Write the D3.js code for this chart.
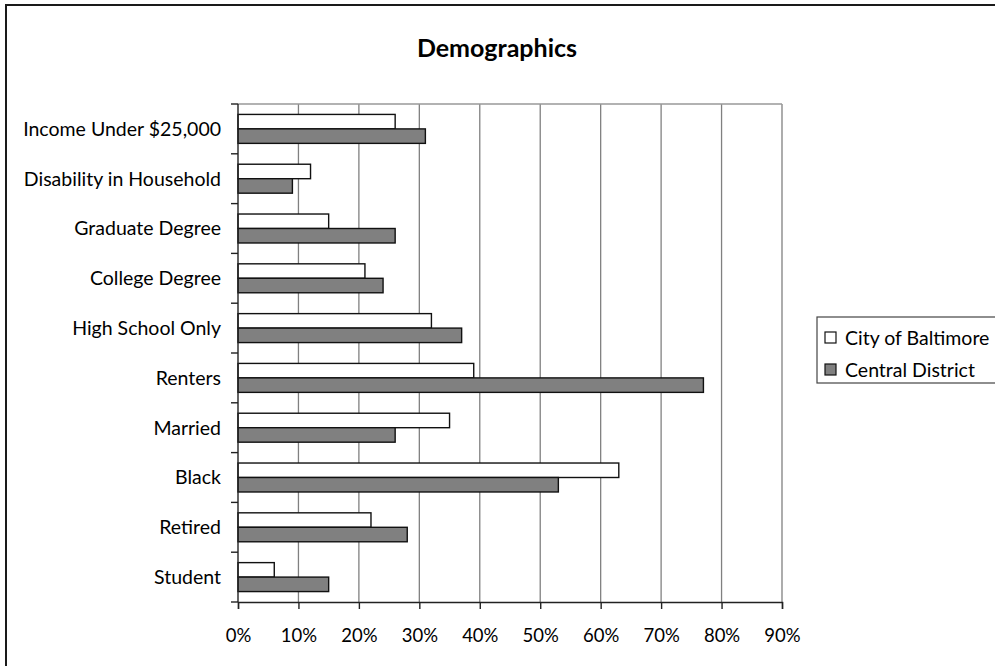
<!DOCTYPE html>
<html>
<head>
<meta charset="utf-8">
<script src="https://cdn.jsdelivr.net/npm/d3@7"></script>
<style>
  body { margin: 0; background: #fff; }
  svg { display: block; font-family: Lato, "Open Sans", sans-serif; }
</style>
</head>
<body>
<div id="chart"></div>
<script>
// categories, top to bottom
const categories = ['Income Under $25,000', 'Disability in Household', 'Graduate Degree',
  'College Degree', 'High School Only', 'Renters', 'Married', 'Black', 'Retired', 'Student'];
const seriesNames = ['City of Baltimore', 'Central District'];
const baltimore = [26, 12, 15, 21, 32, 39, 35, 63, 22, 6];
const central = [31, 9, 26, 24, 37, 77, 26, 53, 28, 15];
const xTicks = [0, 10, 20, 30, 40, 50, 60, 70, 80, 90];
const fills = ['#ffffff', '#808080'];

const width = 995, height = 666;
const margin = { top: 104, left: 238, right: 213, bottom: 64 };
const font = 'Lato, "Open Sans", sans-serif';

const svg = d3.select('#chart').append('svg')
  .attr('width', width)
  .attr('height', height);

// outer chart border
svg.append('rect')
  .attr('x', 6).attr('y', 5)
  .attr('width', width + 20).attr('height', height + 20)
  .attr('fill', 'none')
  .attr('stroke', '#1a1a1a')
  .attr('stroke-width', 2);

svg.append('text')
  .attr('x', 497).attr('y', 57)
  .attr('text-anchor', 'middle')
  .style('font-size', '25px')
  .style('font-weight', 'bold')
  .text('Demographics');

const x = d3.scaleLinear().domain([0, 90]).range([margin.left, width - margin.right]);
const y = d3.scaleBand().domain(categories).range([margin.top, height - margin.bottom]);
const inner = d3.scaleBand().domain(seriesNames).range([0, y.bandwidth()]).paddingInner(0).paddingOuter(0.72);

const g = svg.append('g');

// gridlines
g.selectAll('.grid')
  .data(xTicks.slice(1))
  .enter().append('line')
  .attr('x1', d => x(d)).attr('x2', d => x(d))
  .attr('y1', margin.top).attr('y2', height - margin.bottom)
  .attr('stroke', '#808080')
  .attr('stroke-width', 1.3);

// plot area top edge
g.append('line')
  .attr('x1', margin.left).attr('x2', x(90))
  .attr('y1', margin.top).attr('y2', margin.top)
  .attr('stroke', '#999')
  .attr('stroke-width', 1.5);

const data = categories.map((c, i) => ({ cat: c, vals: [baltimore[i], central[i]] }));

const groups = g.selectAll('.cat')
  .data(data)
  .enter().append('g')
  .attr('transform', d => `translate(0, ${y(d.cat)})`);

groups.selectAll('rect')
  .data(d => d.vals.map((v, j) => ({ v, s: seriesNames[j], j })))
  .enter().append('rect')
  .attr('x', x(0))
  .attr('y', d => inner(d.s))
  .attr('width', d => x(d.v) - x(0))
  .attr('height', inner.bandwidth())
  .attr('fill', d => fills[d.j])
  .attr('stroke', '#111')
  .attr('stroke-width', 1.4);

// y axis with ticks between categories
const yAxisG = g.append('g');
yAxisG.append('line')
  .attr('x1', margin.left).attr('x2', margin.left)
  .attr('y1', margin.top).attr('y2', height - margin.bottom)
  .attr('stroke', '#222').attr('stroke-width', 1.4);
yAxisG.selectAll('.ytick')
  .data(d3.range(categories.length + 1))
  .enter().append('line')
  .attr('x1', margin.left - 7).attr('x2', margin.left)
  .attr('y1', i => margin.top + i * y.step())
  .attr('y2', i => margin.top + i * y.step())
  .attr('stroke', '#222').attr('stroke-width', 1.4);
yAxisG.selectAll('.ylabel')
  .data(categories)
  .enter().append('text')
  .attr('x', margin.left - 17)
  .attr('y', d => y(d) + y.bandwidth() / 2)
  .attr('dy', '0.35em')
  .attr('text-anchor', 'end')
  .style('font-size', '19.5px')
  .text(d => d);

// x axis
const xAxis = d3.axisBottom(x)
  .tickValues(xTicks)
  .tickFormat(d => d + '%')
  .tickSize(7)
  .tickPadding(20);
const xAxisG = g.append('g')
  .attr('transform', `translate(0, ${height - margin.bottom})`)
  .call(xAxis);
xAxisG.select('.domain').attr('stroke', '#222').attr('stroke-width', 1.4);
xAxisG.selectAll('.tick line').attr('stroke', '#222').attr('stroke-width', 1.4);
xAxisG.selectAll('.tick text')
  .attr('fill', '#000')
  .style('font-size', '18.5px')
  .style('font-family', font);

// legend
const legend = svg.append('g').attr('transform', 'translate(817, 317)');
legend.append('rect')
  .attr('width', 200).attr('height', 66)
  .attr('fill', '#fff')
  .attr('stroke', '#444')
  .attr('stroke-width', 1.2);
const items = legend.selectAll('.item')
  .data(seriesNames)
  .enter().append('g')
  .attr('transform', (d, i) => `translate(8, ${15 + i * 32})`);
items.append('rect')
  .attr('width', 11).attr('height', 11)
  .attr('fill', (d, i) => fills[i])
  .attr('stroke', '#111').attr('stroke-width', 1.2);
items.append('text')
  .attr('x', 20).attr('y', 6)
  .attr('dy', '0.35em')
  .style('font-size', '19.5px')
  .text(d => d);
</script>
</body>
</html>
